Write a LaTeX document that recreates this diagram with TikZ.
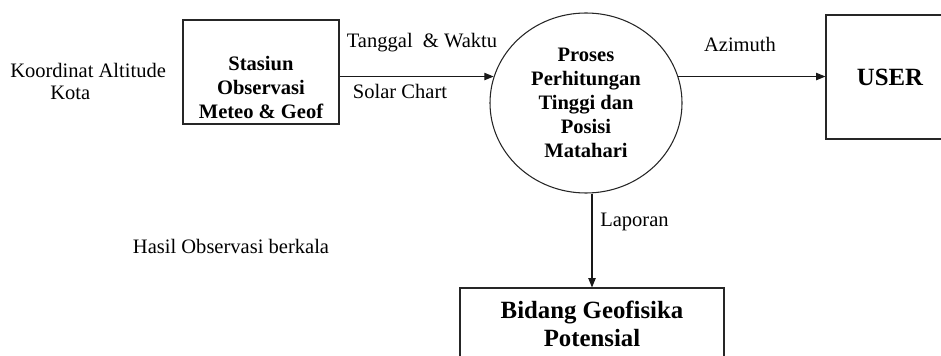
\documentclass[tikz,border=0pt]{standalone}
\usepackage{fontspec}
\setmainfont{Liberation Serif}
\usepackage{tikz}
\usetikzlibrary{shapes.geometric, arrows.meta}

\tikzset{
  kotak/.style={draw=black!85, line width=0.8pt, rectangle, inner sep=0pt},
  teks/.style={font=\fontsize{15.4}{18}\selectfont, align=center, inner sep=0pt},
  tebal/.style={font=\fontsize{15.4}{18}\selectfont\bfseries, align=center, inner sep=0pt},
  besar/.style={font=\fontsize{18.6}{21}\selectfont\bfseries, align=center},
  alir/.style={draw=black!90, line width=0.8pt, -{Triangle[length=7pt,width=5.5pt]}},
}

\begin{document}
\begin{tikzpicture}[x=0.75pt, y=-0.75pt]
  \useasboundingbox (0,0) rectangle (941,356);
  \clip (0,0) rectangle (941,356);

  % Stasiun
  \node[kotak, minimum width=117pt, minimum height=78pt] (stasiun) at (261,72) {};
  \node[tebal] (stasiunteks) at (261,87) {Stasiun\\Observasi\\Meteo \& Geof};

  % Proses
  \node[ellipse, draw=black!85, line width=0.8pt, minimum width=144pt, minimum height=135pt, tebal]
    (proses) at (586,103) {Proses\\Perhitungan\\Tinggi dan\\Posisi\\Matahari};

  % User
  \node[kotak, besar, minimum width=96pt, minimum height=93pt] (user) at (890,77) {USER};

  % Bidang
  \node[kotak, besar, minimum width=198pt, minimum height=54pt] (bidang) at (592,324) {Bidang Geofisika\\Potensial};

  % Alur data
  \draw[alir] (stasiun.east |- proses.164) -- (proses.164);
  \draw[alir] (proses.16) -- (user.west |- proses.16);
  \draw[alir] (proses.south -| bidang.north) -- (bidang.north);

  % Label
  \node[teks] (tanggal) at (422,43) {Tanggal\enspace\& Waktu};
  \node[teks] (solar) at (400,91) {Solar Chart};
  \node[teks] (azimuth) at (740,44) {Azimuth};
  \node[teks, anchor=west] (laporan) at (600,222) {Laporan};
  \node[teks] (hasil) at (231,246) {Hasil Observasi berkala};
  \node[teks, align=left, anchor=west, font=\fontsize{15.4}{16.5}\selectfont]
    (koordinat) at (10,81) {Koordinat Altitude\\\hspace*{30pt}Kota};
\end{tikzpicture}
\end{document}
